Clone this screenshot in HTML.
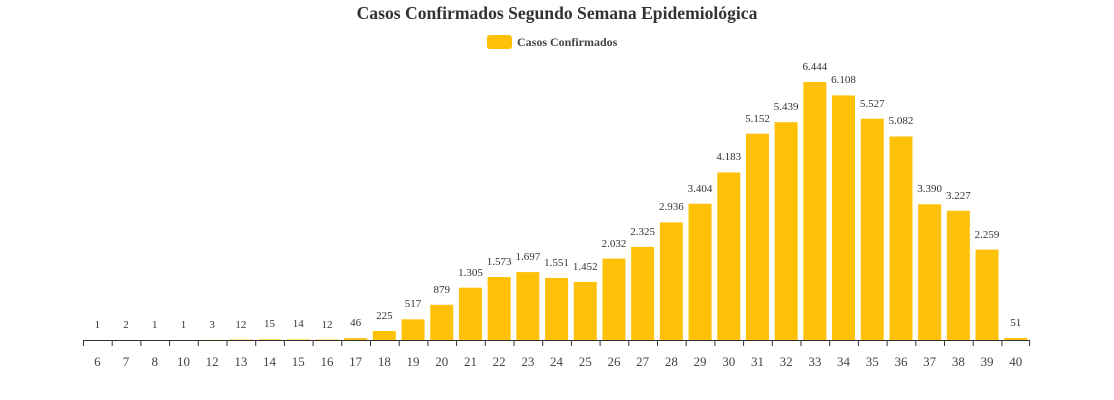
<!DOCTYPE html>
<html><head><meta charset="utf-8"><style>
html,body{margin:0;padding:0;background:#fff;}
svg{display:block;font-family:"Liberation Serif",serif;}
.v{font-size:11px;fill:#333;text-anchor:middle}
.x{font-size:13px;fill:#444;text-anchor:middle}
</style></head><body>
<svg width="1114" height="400" viewBox="0 0 1114 400">
<text x="557" y="19" text-anchor="middle" style="font-size:17.6px;font-weight:bold;fill:#333">Casos Confirmados Segundo Semana Epidemiológica</text>
<rect x="487" y="35" width="25" height="14" rx="3" fill="#ffc107"/>
<text x="517" y="46" style="font-size:12px;font-weight:bold;fill:#444">Casos Confirmados</text>
<g fill="#ffc107">
<rect x="85.85" y="339.96" width="23" height="0.04"/>
<rect x="114.55" y="339.92" width="23" height="0.08"/>
<rect x="143.25" y="339.96" width="23" height="0.04"/>
<rect x="171.95" y="339.96" width="23" height="0.04"/>
<rect x="200.65" y="339.88" width="23" height="0.12"/>
<rect x="229.35" y="339.52" width="23" height="0.48"/>
<rect x="258.05" y="339.4" width="23" height="0.6"/>
<rect x="286.75" y="339.44" width="23" height="0.56"/>
<rect x="315.45" y="339.52" width="23" height="0.48"/>
<rect x="344.15" y="338.16" width="23" height="1.84"/>
<rect x="372.85" y="331" width="23" height="9"/>
<rect x="401.55" y="319.3" width="23" height="20.7"/>
<rect x="430.25" y="304.8" width="23" height="35.2"/>
<rect x="458.95" y="287.7" width="23" height="52.3"/>
<rect x="487.65" y="277" width="23" height="63"/>
<rect x="516.35" y="272.1" width="23" height="67.9"/>
<rect x="545.05" y="277.9" width="23" height="62.1"/>
<rect x="573.75" y="281.9" width="23" height="58.1"/>
<rect x="602.45" y="258.6" width="23" height="81.4"/>
<rect x="631.15" y="246.9" width="23" height="93.1"/>
<rect x="659.85" y="222.4" width="23" height="117.6"/>
<rect x="688.55" y="203.7" width="23" height="136.3"/>
<rect x="717.25" y="172.5" width="23" height="167.5"/>
<rect x="745.95" y="133.7" width="23" height="206.3"/>
<rect x="774.65" y="122.2" width="23" height="217.8"/>
<rect x="803.35" y="82" width="23" height="258"/>
<rect x="832.05" y="95.4" width="23" height="244.6"/>
<rect x="860.75" y="118.7" width="23" height="221.3"/>
<rect x="889.45" y="136.5" width="23" height="203.5"/>
<rect x="918.15" y="204.3" width="23" height="135.7"/>
<rect x="946.85" y="210.8" width="23" height="129.2"/>
<rect x="975.55" y="249.6" width="23" height="90.4"/>
<rect x="1004.25" y="337.96" width="23" height="2.04"/>
</g>
<g class="v">
<text x="97.35" y="328">1</text>
<text x="126.05" y="328">2</text>
<text x="154.75" y="328">1</text>
<text x="183.45" y="328">1</text>
<text x="212.15" y="328">3</text>
<text x="240.85" y="328">12</text>
<text x="269.55" y="327">15</text>
<text x="298.25" y="327">14</text>
<text x="326.95" y="328">12</text>
<text x="355.65" y="326">46</text>
<text x="384.35" y="319">225</text>
<text x="413.05" y="307">517</text>
<text x="441.75" y="293">879</text>
<text x="470.45" y="276">1.305</text>
<text x="499.15" y="265">1.573</text>
<text x="527.85" y="260">1.697</text>
<text x="556.55" y="266">1.551</text>
<text x="585.25" y="270">1.452</text>
<text x="613.95" y="247">2.032</text>
<text x="642.65" y="235">2.325</text>
<text x="671.35" y="210">2.936</text>
<text x="700.05" y="192">3.404</text>
<text x="728.75" y="160">4.183</text>
<text x="757.45" y="122">5.152</text>
<text x="786.15" y="110">5.439</text>
<text x="814.85" y="70">6.444</text>
<text x="843.55" y="83">6.108</text>
<text x="872.25" y="107">5.527</text>
<text x="900.95" y="124">5.082</text>
<text x="929.65" y="192">3.390</text>
<text x="958.35" y="199">3.227</text>
<text x="987.05" y="238">2.259</text>
<text x="1015.75" y="326">51</text>
</g>
<line x1="83" y1="340.5" x2="1030" y2="340.5" stroke="#333" stroke-width="1"/>
<g stroke="#333" stroke-width="1">
<path d="M83.5 340V346M112.2 340V346M140.9 340V346M169.6 340V346M198.3 340V346M227 340V346M255.7 340V346M284.4 340V346M313.1 340V346M341.8 340V346M370.5 340V346M399.2 340V346M427.9 340V346M456.6 340V346M485.3 340V346M514 340V346M542.7 340V346M571.4 340V346M600.1 340V346M628.8 340V346M657.5 340V346M686.2 340V346M714.9 340V346M743.6 340V346M772.3 340V346M801 340V346M829.7 340V346M858.4 340V346M887.1 340V346M915.8 340V346M944.5 340V346M973.2 340V346M1001.9 340V346M1029.6 340V346"/>
</g>
<g class="x">
<text x="97.35" y="366">6</text>
<text x="126.05" y="366">7</text>
<text x="154.75" y="366">8</text>
<text x="183.45" y="366">10</text>
<text x="212.15" y="366">12</text>
<text x="240.85" y="366">13</text>
<text x="269.55" y="366">14</text>
<text x="298.25" y="366">15</text>
<text x="326.95" y="366">16</text>
<text x="355.65" y="366">17</text>
<text x="384.35" y="366">18</text>
<text x="413.05" y="366">19</text>
<text x="441.75" y="366">20</text>
<text x="470.45" y="366">21</text>
<text x="499.15" y="366">22</text>
<text x="527.85" y="366">23</text>
<text x="556.55" y="366">24</text>
<text x="585.25" y="366">25</text>
<text x="613.95" y="366">26</text>
<text x="642.65" y="366">27</text>
<text x="671.35" y="366">28</text>
<text x="700.05" y="366">29</text>
<text x="728.75" y="366">30</text>
<text x="757.45" y="366">31</text>
<text x="786.15" y="366">32</text>
<text x="814.85" y="366">33</text>
<text x="843.55" y="366">34</text>
<text x="872.25" y="366">35</text>
<text x="900.95" y="366">36</text>
<text x="929.65" y="366">37</text>
<text x="958.35" y="366">38</text>
<text x="987.05" y="366">39</text>
<text x="1015.75" y="366">40</text>
</g>
</svg>
</body></html>
